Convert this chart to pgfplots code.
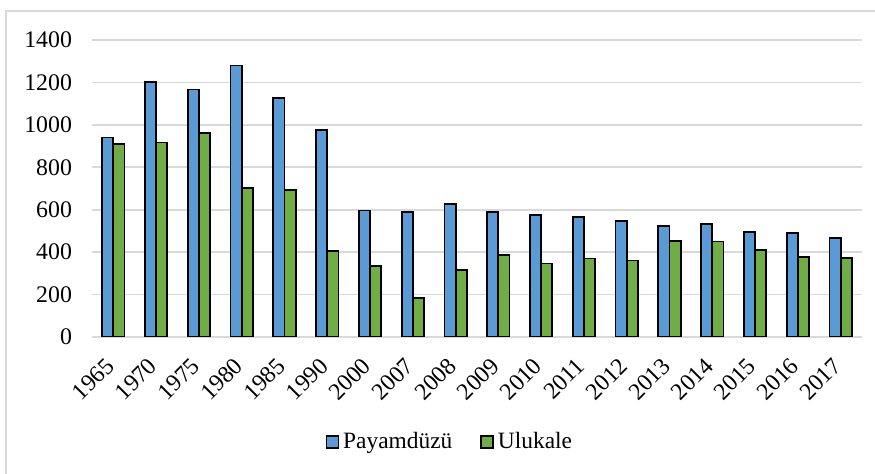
\documentclass[border=0pt]{standalone}
\usepackage{pgfplots}
\pgfplotsset{compat=1.18}
\usepackage{fontspec}
\setmainfont{Liberation Serif}
\definecolor{cblue}{HTML}{5B9BD5}
\definecolor{cgreen}{HTML}{70AD47}
\definecolor{cgrid}{HTML}{D9D9D9}
\begin{document}
\begin{tikzpicture}
\useasboundingbox (-46pt,-68.5pt) rectangle (391.5pt,168.5pt);
\draw[cgrid, line width=0.8pt] (-43pt,-70pt) -- (-43pt,163pt) -- (393pt,163pt);
\begin{axis}[
  at={(0,0)}, anchor=south west,
  scale only axis, width=385pt, height=148.5pt,
  ybar=0pt, bar width=5.6pt,
  xmin=-0.5, xmax=17.5, ymin=0, ymax=1400,
  ytick={0,200,...,1400},
  xtick=data,
  xticklabels={1965,1970,1975,1980,1985,1990,2000,2007,2008,2009,2010,2011,2012,2013,2014,2015,2016,2017},
  major tick length=0pt,
  axis x line*=bottom, axis y line*=left,
  y axis line style={draw=none},
  x axis line style={draw=cgrid, line width=0.8pt},
  ymajorgrids, grid style={draw=cgrid, line width=0.8pt},
  /pgf/number format/assume math mode=true,
  /pgf/number format/1000 sep={},
  tick label style={font=\fontsize{11.9}{14}\selectfont},
  yticklabel style={xshift=-6.5pt},
  xticklabel style={xshift=-4.5pt, yshift=-9.5pt, rotate=45, anchor=north east, inner sep=0pt},
  legend style={at={(0.466,-0.354)}, anchor=center, draw=none, fill=none,
    legend columns=2, font=\fontsize{11.7}{14}\selectfont,
    /tikz/every even column/.append style={column sep=12pt}},
  legend image code/.code={\draw[#1, line width=0.8pt] (0pt,-3pt) rectangle (6pt,3pt);},
]
\addplot[fill=cblue, draw=black, line width=0.9pt] coordinates {
(0,940) (1,1201) (2,1167) (3,1280) (4,1127) (5,974) (6,596) (7,588) (8,627) (9,589)
(10,576) (11,567) (12,545) (13,523) (14,534) (15,495) (16,491) (17,466)};
\addplot[fill=cgreen, draw=black, line width=0.9pt] coordinates {
(0,911) (1,917) (2,963) (3,703) (4,694) (5,405) (6,336) (7,183) (8,315) (9,387)
(10,346) (11,370) (12,361) (13,454) (14,450) (15,410) (16,378) (17,373)};
\legend{Payamdüzü, Ulukale}
\end{axis}
\end{tikzpicture}
\end{document}
